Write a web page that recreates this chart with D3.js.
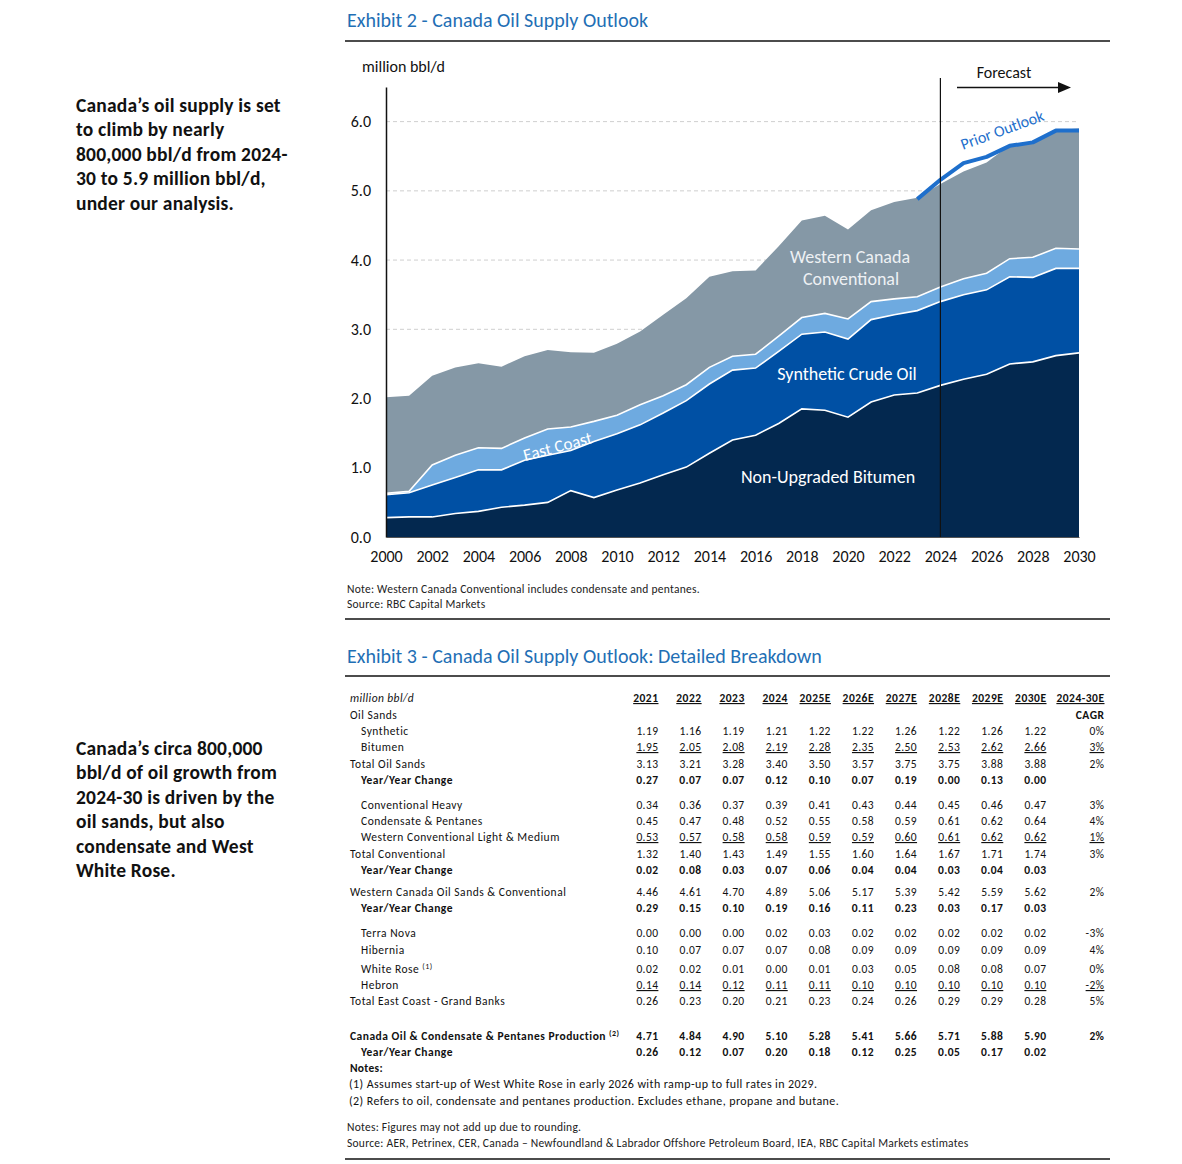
<!DOCTYPE html>
<html>
<head>
<meta charset="utf-8">
<script src="https://cdn.jsdelivr.net/npm/d3@7"></script>
<style>
  html, body { margin: 0; padding: 0; background: #fff; }
  svg { display: block; }
  text { font-family: Carlito, Lato, "Liberation Sans", sans-serif; }
</style>
</head>
<body>
<svg id="page" width="1182" height="1164"></svg>
<script>
// ---------------- Chart data (Exhibit 2) ----------------
const years = [2000,2001,2002,2003,2004,2005,2006,2007,2008,2009,2010,2011,2012,2013,2014,2015,
               2016,2017,2018,2019,2020,2021,2022,2023,2024,2025,2026,2027,2028,2029,2030];
const bitumen = [0.28,0.29,0.29,0.34,0.37,0.43,0.46,0.50,0.67,0.57,0.68,0.78,0.90,1.01,1.21,1.40,
                 1.47,1.64,1.85,1.83,1.73,1.95,2.05,2.08,2.19,2.28,2.35,2.50,2.53,2.62,2.66];
const synthetic = [0.33,0.35,0.46,0.52,0.60,0.54,0.65,0.68,0.58,0.81,0.81,0.84,0.89,0.96,1.00,1.01,
                   0.97,1.04,1.08,1.13,1.13,1.19,1.16,1.19,1.21,1.22,1.22,1.26,1.22,1.26,1.22];
const eastCoast = [0.02,0.02,0.29,0.32,0.32,0.31,0.32,0.38,0.34,0.29,0.27,0.29,0.25,0.23,0.24,0.20,
                   0.20,0.22,0.24,0.27,0.29,0.26,0.23,0.20,0.21,0.23,0.24,0.26,0.29,0.29,0.28];
const conventional = [1.39,1.38,1.29,1.27,1.22,1.18,1.18,1.14,1.08,0.99,1.03,1.06,1.17,1.25,1.31,1.23,
                      1.21,1.30,1.40,1.41,1.29,1.32,1.40,1.43,1.49,1.55,1.60,1.64,1.67,1.71,1.74];
const priorYears = [2023,2024,2025,2026,2027,2028,2029,2030];
const priorOutlook = [4.88,5.16,5.40,5.49,5.65,5.70,5.87,5.87];
const yTicks = [0,1,2,3,4,5,6];
const xTicks = [2000,2002,2004,2006,2008,2010,2012,2014,2016,2018,2020,2022,2024,2026,2028,2030];
const forecastStart = 2024;

// ---------------- Table data (Exhibit 3) ----------------
const tableYears = ["2021","2022","2023","2024","2025E","2026E","2027E","2028E","2029E","2030E"];
const tSynthetic = [1.19,1.16,1.19,1.21,1.22,1.22,1.26,1.22,1.26,1.22];
const tBitumen = [1.95,2.05,2.08,2.19,2.28,2.35,2.50,2.53,2.62,2.66];
const tTotalOilSands = [3.13,3.21,3.28,3.40,3.50,3.57,3.75,3.75,3.88,3.88];
const tOilSandsYoY = [0.27,0.07,0.07,0.12,0.10,0.07,0.19,0.00,0.13,0.00];
const tConvHeavy = [0.34,0.36,0.37,0.39,0.41,0.43,0.44,0.45,0.46,0.47];
const tCondensate = [0.45,0.47,0.48,0.52,0.55,0.58,0.59,0.61,0.62,0.64];
const tLightMedium = [0.53,0.57,0.58,0.58,0.59,0.59,0.60,0.61,0.62,0.62];
const tTotalConv = [1.32,1.40,1.43,1.49,1.55,1.60,1.64,1.67,1.71,1.74];
const tConvYoY = [0.02,0.08,0.03,0.07,0.06,0.04,0.04,0.03,0.04,0.03];
const tWestern = [4.46,4.61,4.70,4.89,5.06,5.17,5.39,5.42,5.59,5.62];
const tWesternYoY = [0.29,0.15,0.10,0.19,0.16,0.11,0.23,0.03,0.17,0.03];
const tTerraNova = [0.00,0.00,0.00,0.02,0.03,0.02,0.02,0.02,0.02,0.02];
const tHibernia = [0.10,0.07,0.07,0.07,0.08,0.09,0.09,0.09,0.09,0.09];
const tWhiteRose = [0.02,0.02,0.01,0.00,0.01,0.03,0.05,0.08,0.08,0.07];
const tHebron = [0.14,0.14,0.12,0.11,0.11,0.10,0.10,0.10,0.10,0.10];
const tTotalEast = [0.26,0.23,0.20,0.21,0.23,0.24,0.26,0.29,0.29,0.28];
const tCanada = [4.71,4.84,4.90,5.10,5.28,5.41,5.66,5.71,5.88,5.90];
const tCanadaYoY = [0.26,0.12,0.07,0.20,0.18,0.12,0.25,0.05,0.17,0.02];
const tCagr = {synthetic:"0%", bitumen:"3%", totalOilSands:"2%", convHeavy:"3%", condensate:"4%",
               lightMedium:"1%", totalConv:"3%", western:"2%", terraNova:"-3%", hibernia:"4%",
               whiteRose:"0%", hebron:"-2%", totalEast:"5%", canada:"2%"};

// ---------------- Drawing ----------------
const svg = d3.select("#page");
svg.append("rect").attr("width",1182).attr("height",1164).attr("fill","#fff");

const BLUE_TITLE = "#1f6fb5";

// Side commentary
const side1 = ["Canada\u2019s oil supply is set","to climb by nearly","800,000 bbl/d from 2024-","30 to 5.9 million bbl/d,","under our analysis."];
const side2 = ["Canada\u2019s circa 800,000","bbl/d of oil growth from","2024-30 is driven by the","oil sands, but also","condensate and West","White Rose."];
function sideBlock(lines, y0){
  const t = svg.append("text").attr("x",76).attr("y",y0)
    .attr("font-size",19.5).attr("font-weight","bold").attr("fill","#111")
    .style("letter-spacing","0.2px");
  lines.forEach((l,i)=> t.append("tspan").attr("x",76).attr("y",y0+i*24.4).text(l));
}
sideBlock(side1, 112);
sideBlock(side2, 755);

// Titles & rules
svg.append("text").attr("x",347).attr("y",27).attr("font-size",20).attr("fill",BLUE_TITLE)
  .text("Exhibit 2 - Canada Oil Supply Outlook");
[41,619,676,1159].forEach(yy=> svg.append("line").attr("x1",345).attr("x2",1110)
  .attr("y1",yy).attr("y2",yy).attr("stroke","#111").attr("stroke-width",1.3));

// ---- Chart ----
const x = d3.scaleLinear().domain([2000,2030]).range([386,1079]);
const y = d3.scaleLinear().domain([0,6.5]).range([537,87]);
const g = svg.append("g");

// gridlines
g.selectAll("line.grid").data(yTicks.filter(d=>d>0)).join("line")
  .attr("x1",x(2000)).attr("x2",x(2030)).attr("y1",d=>y(d)).attr("y2",d=>y(d))
  .attr("stroke","#cfcfcf").attr("stroke-dasharray","4,3").attr("stroke-width",1);

const keys = ["bitumen","synthetic","eastCoast","conventional"];
const colors = {bitumen:"#03284f", synthetic:"#0050a4", eastCoast:"#6eaae0", conventional:"#8598a6"};
const rows = years.map((yr,i)=>({year:yr, bitumen:bitumen[i], synthetic:synthetic[i], eastCoast:eastCoast[i], conventional:conventional[i]}));
const stacked = d3.stack().keys(keys)(rows);

const area = d3.area().x(d=>x(d.data.year)).y0(d=>y(d[0])).y1(d=>y(d[1]));
g.selectAll("path.layer").data(stacked).join("path")
  .attr("d",area).attr("fill",d=>colors[d.key]);

const topLine = d3.line().x(d=>x(d.data.year)).y(d=>y(d[1]));
g.selectAll("path.sep").data(stacked.slice(0,3)).join("path")
  .attr("d",topLine).attr("fill","none").attr("stroke","#fff").attr("stroke-width",1.6);

// prior outlook line
const priorLine = d3.line().x((d,i)=>x(priorYears[i])).y(d=>y(d));
g.append("path").attr("d",priorLine(priorOutlook)).attr("fill","none")
  .attr("stroke","#1e6fcc").attr("stroke-width",4).attr("stroke-linejoin","round");

// axes
const yAxis = g.append("g").attr("transform",`translate(${x(2000)},0)`)
  .call(d3.axisLeft(y).tickValues(yTicks).tickFormat(d3.format(".1f")).tickSize(0).tickSizeOuter(0).tickPadding(15));
yAxis.select(".domain").attr("stroke","#111").attr("stroke-width",1.5);
yAxis.selectAll("text").attr("font-size",16).attr("fill","#111").style("font-family","Carlito, Lato, sans-serif");

const xAxis = g.append("g").attr("transform",`translate(0,${y(0)})`)
  .call(d3.axisBottom(x).tickValues(xTicks).tickFormat(d3.format("d")).tickSize(0).tickSizeOuter(0).tickPadding(14));
xAxis.select(".domain").attr("stroke","#555").attr("stroke-width",1);
xAxis.selectAll("text").attr("font-size",16).attr("fill","#111").style("font-family","Carlito, Lato, sans-serif");

svg.append("text").attr("x",362).attr("y",72).attr("font-size",16).attr("fill","#111").text("million bbl/d");

// forecast marker
g.append("line").attr("x1",x(forecastStart)).attr("x2",x(forecastStart)).attr("y1",78).attr("y2",y(0))
  .attr("stroke","#111").attr("stroke-width",1.2);
g.append("text").attr("x",1004).attr("y",78).attr("text-anchor","middle").attr("font-size",16).attr("fill","#111").text("Forecast");
g.append("line").attr("x1",957).attr("x2",1060).attr("y1",87.5).attr("y2",87.5).attr("stroke","#111").attr("stroke-width",1.4);
g.append("path").attr("d","M1058,82 L1071,87.5 L1058,93 Z").attr("fill","#111");

// series labels
const lab = (txt, cx, cy, fs, fill, rot) => {
  const t = g.append("text").attr("text-anchor","middle").attr("font-size",fs).attr("fill",fill).text(txt);
  if (rot) t.attr("transform",`translate(${cx},${cy}) rotate(${rot})`);
  else t.attr("x",cx).attr("y",cy);
  return t;
};
lab("Western Canada",850,263,18,"#eef1f4");
lab("Conventional",851,285,18,"#eef1f4");
lab("Synthetic Crude Oil",847,380,18,"#ffffff");
lab("Non-Upgraded Bitumen",828,483,18,"#ffffff");
lab("East Coast",559,452,17,"#ffffff",-15);
lab("Prior Outlook",1004,135,16,"#1e6fcc",-20);

// chart notes
const noteStyle = t => t.attr("font-size",11.5).attr("fill","#222").style("letter-spacing","0.25px");
noteStyle(svg.append("text").attr("x",347).attr("y",593))
  .text("Note: Western Canada Conventional includes condensate and pentanes.");
noteStyle(svg.append("text").attr("x",347).attr("y",608))
  .text("Source: RBC Capital Markets");

// ---- Table ----
svg.append("text").attr("x",347).attr("y",663).attr("font-size",20).attr("fill",BLUE_TITLE)
  .text("Exhibit 3 - Canada Oil Supply Outlook: Detailed Breakdown");

const colRight = d3.scalePoint().domain(tableYears).range([658,1046]);
const cagrRight = 1104;
const fs = 11.5;
const fmt = d3.format(".2f");
const tg = svg.append("g").attr("font-size",fs).attr("fill","#111");

// header
tg.append("text").attr("x",350).attr("y",702).attr("font-style","italic").style("letter-spacing","0.4px").text("million bbl/d");
tg.selectAll("text.hdr").data(tableYears).join("text")
  .attr("x",d=>colRight(d)+0.5).attr("y",702).attr("text-anchor","end").attr("font-weight","bold")
  .style("letter-spacing","0.5px").style("text-decoration","underline").text(d=>d);
tg.append("text").attr("x",cagrRight+0.5).attr("y",702).attr("text-anchor","end").attr("font-weight","bold")
  .style("letter-spacing","0.5px").style("text-decoration","underline").text("2024-30E");
tg.append("text").attr("x",cagrRight+0.5).attr("y",719).attr("text-anchor","end").attr("font-weight","bold")
  .style("letter-spacing","0.5px").text("CAGR");

const tableRows = [
  {label:"Oil Sands", y:719, indent:false},
  {label:"Synthetic", y:735, indent:true, values:tSynthetic, cagr:tCagr.synthetic},
  {label:"Bitumen", y:751, indent:true, values:tBitumen, cagr:tCagr.bitumen, underline:true},
  {label:"Total Oil Sands", y:768, values:tTotalOilSands, cagr:tCagr.totalOilSands},
  {label:"Year/Year Change", y:784, indent:true, bold:true, values:tOilSandsYoY},
  {label:"Conventional Heavy", y:809, indent:true, values:tConvHeavy, cagr:tCagr.convHeavy},
  {label:"Condensate & Pentanes", y:825, indent:true, values:tCondensate, cagr:tCagr.condensate},
  {label:"Western Conventional Light & Medium", y:841, indent:true, values:tLightMedium, cagr:tCagr.lightMedium, underline:true},
  {label:"Total Conventional", y:858, values:tTotalConv, cagr:tCagr.totalConv},
  {label:"Year/Year Change", y:874, indent:true, bold:true, values:tConvYoY},
  {label:"Western Canada Oil Sands & Conventional", y:896, values:tWestern, cagr:tCagr.western},
  {label:"Year/Year Change", y:912, indent:true, bold:true, values:tWesternYoY},
  {label:"Terra Nova", y:937, indent:true, values:tTerraNova, cagr:tCagr.terraNova},
  {label:"Hibernia", y:954, indent:true, values:tHibernia, cagr:tCagr.hibernia},
  {label:"White Rose", sup:"(1)", y:973, indent:true, values:tWhiteRose, cagr:tCagr.whiteRose},
  {label:"Hebron", y:989, indent:true, values:tHebron, cagr:tCagr.hebron, underline:true},
  {label:"Total East Coast - Grand Banks", y:1005, values:tTotalEast, cagr:tCagr.totalEast},
  {label:"Canada Oil & Condensate & Pentanes Production", sup:"(2)", y:1040, bold:true, values:tCanada, cagr:tCagr.canada},
  {label:"Year/Year Change", y:1056, indent:true, bold:true, values:tCanadaYoY}
];

tableRows.forEach(r=>{
  const lt = tg.append("text").attr("x", r.indent ? 361 : 350).attr("y", r.y)
    .attr("font-weight", r.bold ? "bold" : "normal").style("letter-spacing","0.5px").text(r.label);
  if (r.sup) lt.append("tspan").attr("font-size",8).attr("dx",3).attr("dy",-4).text(r.sup);
  if (r.values) {
    r.values.forEach((v,i)=>{
      tg.append("text").attr("x",colRight(tableYears[i])+0.4).attr("y",r.y).attr("text-anchor","end")
        .attr("font-weight", r.bold ? "bold" : "normal").style("letter-spacing","0.4px")
        .style("text-decoration", r.underline ? "underline" : "none").text(fmt(v));
    });
  }
  if (r.cagr) {
    tg.append("text").attr("x",cagrRight+0.4).attr("y",r.y).attr("text-anchor","end")
      .attr("font-weight", r.bold ? "bold" : "normal").style("letter-spacing","0.4px")
      .style("text-decoration", r.underline ? "underline" : "none").text(r.cagr);
  }
});

// notes
tg.append("text").attr("x",350).attr("y",1072).attr("font-weight","bold").style("letter-spacing","0.3px").text("Notes:");
tg.append("text").attr("x",349).attr("y",1088).attr("font-size",12).style("letter-spacing","0.4px")
  .text("(1) Assumes start-up of West White Rose in early 2026 with ramp-up to full rates in 2029.");
tg.append("text").attr("x",349).attr("y",1105).attr("font-size",12).style("letter-spacing","0.4px")
  .text("(2) Refers to oil, condensate and pentanes production. Excludes ethane, propane and butane.");
noteStyle(svg.append("text").attr("x",347).attr("y",1131))
  .text("Notes: Figures may not add up due to rounding.");
noteStyle(svg.append("text").attr("x",347).attr("y",1147))
  .text("Source: AER, Petrinex, CER, Canada \u2013 Newfoundland & Labrador Offshore Petroleum Board, IEA, RBC Capital Markets estimates");
</script>
</body>
</html>
